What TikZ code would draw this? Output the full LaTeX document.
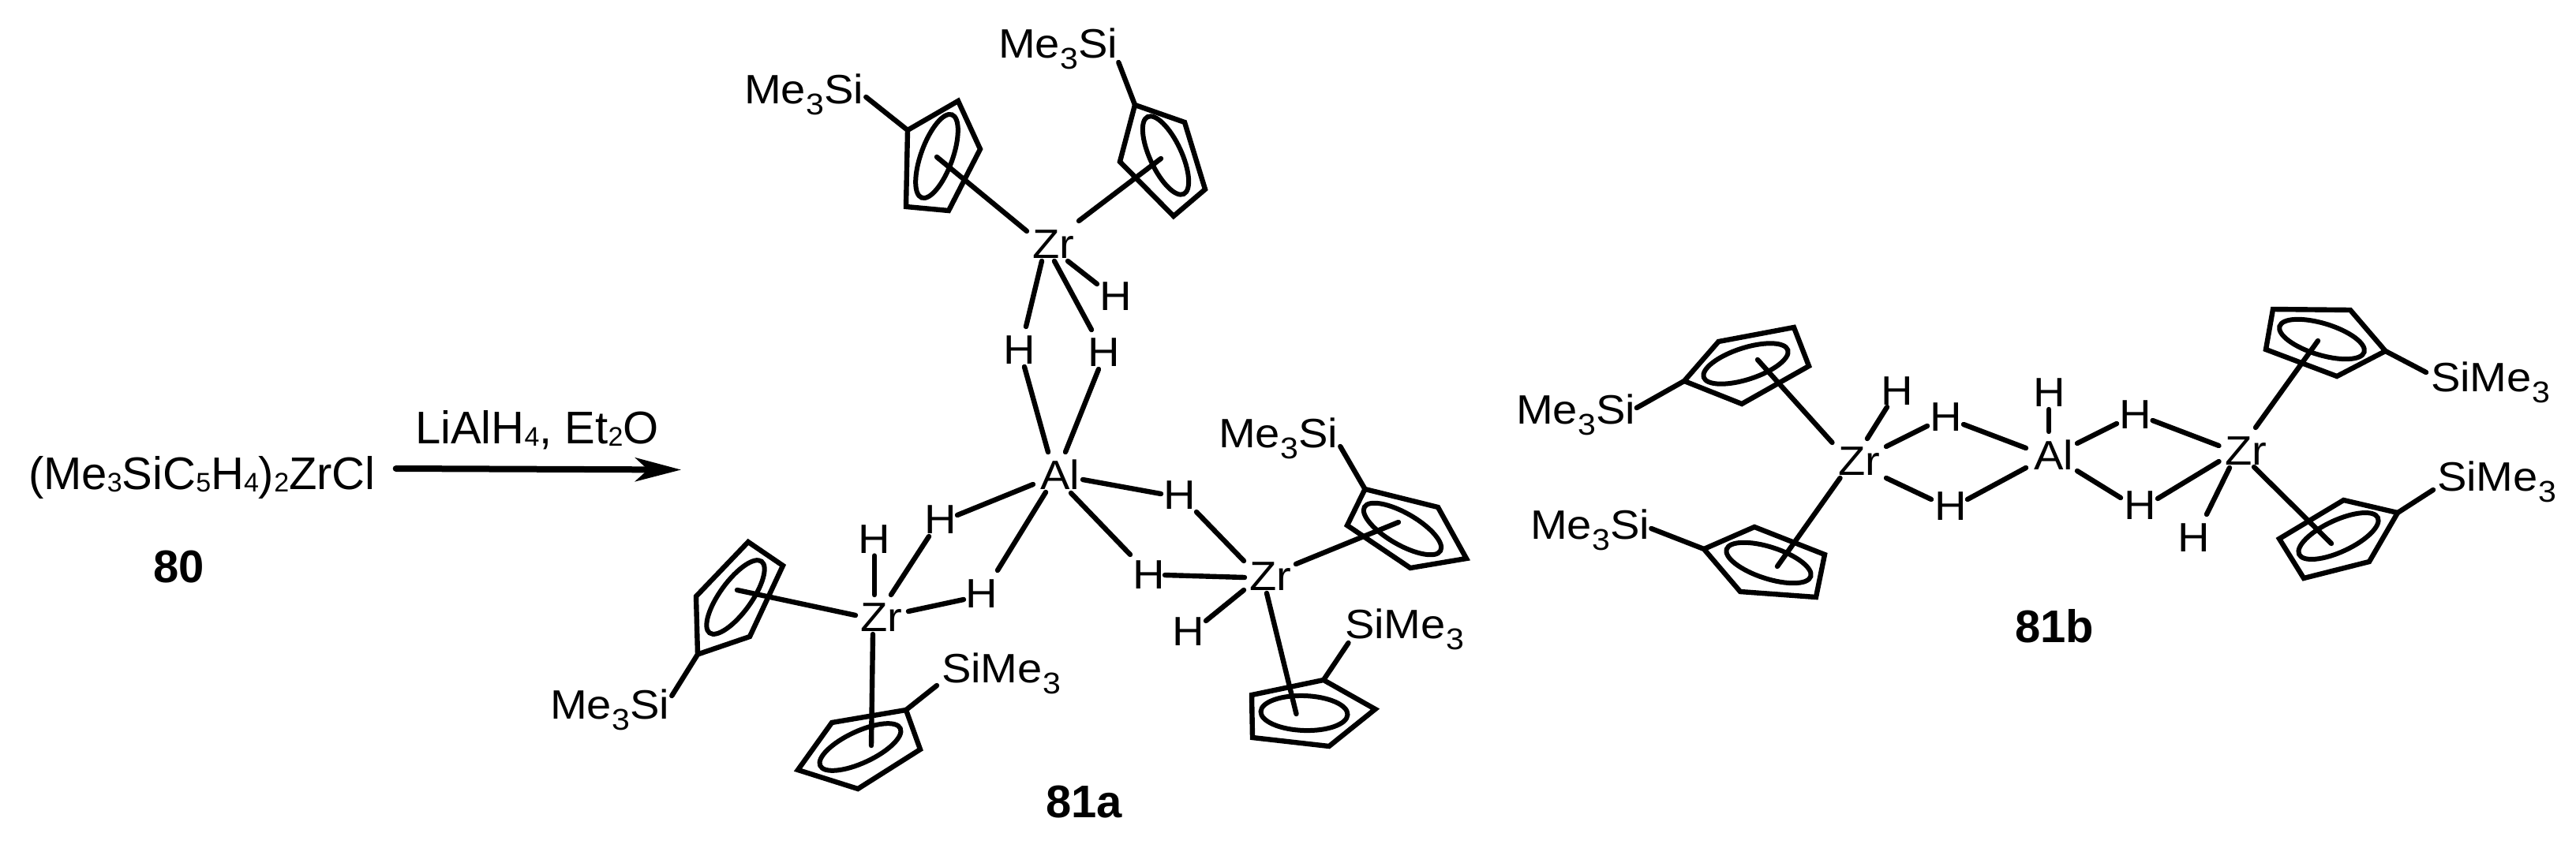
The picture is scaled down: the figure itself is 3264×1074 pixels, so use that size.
\documentclass[tikz,border=0pt]{standalone}
\usepackage{fontspec}
\usepackage{graphicx}
\setmainfont{Liberation Sans}
\newfontfamily\molf[FakeStretch=1.08]{Liberation Sans}
\newcommand{\msub}[1]{\kern0.5pt\raisebox{-14pt}{\fontsize{38}{38}\selectfont #1}}
\newcommand{\lsub}[1]{\raisebox{-3pt}{\fontsize{34}{34}\selectfont #1}}
\newcommand{\LMS}{Me\msub{3}Si}
\newcommand{\RMS}{SiMe\msub{3}}
\tikzset{
  atom/.style={inner sep=0pt,outer sep=0pt,anchor=base,font=\molf\fontsize{52}{52}\selectfont},
  lsil/.style={atom,anchor=base west},
  rsil/.style={atom,anchor=base west},
  plain/.style={inner sep=0pt,outer sep=0pt,anchor=base west,font=\fontsize{58}{58}\selectfont},
  cmpd/.style={inner sep=0pt,outer sep=0pt,anchor=base west,font=\fontsize{58}{58}\selectfont\bfseries},
  bond/.style={draw=black,line width=6.4pt,line cap=round},
  ringl/.style={draw=black,line width=6.4pt,line join=miter},
  loopl/.style={draw=black,line width=6pt},
  rxn/.style={draw=black,line width=8pt,line cap=round,-{Stealth[length=58pt,width=30pt,inset=16pt]}}
}
\usetikzlibrary{arrows.meta}
\begin{document}
\begin{tikzpicture}[x=1pt,y=-1pt]
\useasboundingbox (0,0) rectangle (3264,1074);
% reaction
\node[plain] (react) at (36,620) {(Me\lsub{3}SiC\lsub{5}H\lsub{4})\lsub{2}ZrCl};
\node[plain] (cond) at (526,562) {LiAlH\lsub{4}, Et\lsub{2}O};
\node[cmpd] (c80) at (194,738) {80};
\node[cmpd] (c81a) at (1325,1036) {81a};
\node[cmpd] (c81b) at (2553,814) {81b};
\coordinate (prod) at (863,595.5);
\draw[rxn] ([shift={(26,-26)}]react.base east) -- (prod);
% atoms 81a
\node[atom] (Z1) at (1335,327) {Zr};
\node[atom] (Z2) at (1117,800) {Zr};
\node[atom] (Z3) at (1610,748) {Zr};
\node[atom] (A1) at (1343,620) {Al};
\node[atom] (h1) at (1414,393) {H};
\node[atom] (h2) at (1292,461) {H};
\node[atom] (h3) at (1399,464) {H};
\node[atom] (h4) at (1108,701) {H};
\node[atom] (h5) at (1192,676) {H};
\node[atom] (h6) at (1244,770) {H};
\node[atom] (h7) at (1495,645) {H};
\node[atom] (h8) at (1456,746) {H};
\node[atom] (h9) at (1506,818) {H};
% atoms 81b
\node[atom] (Z4) at (2356,602) {Zr};
\node[atom] (Z5) at (2846,589) {Zr};
\node[atom] (A2) at (2602,595) {Al};
\node[atom] (h10) at (2404,513) {H};
\node[atom] (h11) at (2466,546) {H};
\node[atom] (h12) at (2472,659) {H};
\node[atom] (h13) at (2597,515) {H};
\node[atom] (h14) at (2706,543) {H};
\node[atom] (h15) at (2712,658) {H};
\node[atom] (h16) at (2780,699) {H};
% silyl labels
\node[lsil] (s1) at (943,131) {\LMS};
\node[lsil] (s2) at (1265,73) {\LMS};
\node[lsil] (s3) at (697,911) {\LMS};
\node[rsil] (s4) at (1193,865) {\RMS};
\node[lsil] (s5) at (1544,567) {\LMS};
\node[rsil] (s6) at (1704,809) {\RMS};
\node[lsil] (s7) at (1921,537) {\LMS};
\node[lsil] (s8) at (1939,683) {\LMS};
\node[rsil] (s9) at (3080,496) {\RMS};
\node[rsil] (s10) at (3088,622) {\RMS};
% ring vertices
\coordinate (r1a) at (1150,165); \coordinate (r1b) at (1214,128); \coordinate (r1c) at (1242,189); \coordinate (r1d) at (1202,267); \coordinate (r1e) at (1148,262);
\coordinate (r2a) at (1438,133); \coordinate (r2b) at (1501,155); \coordinate (r2c) at (1527,240); \coordinate (r2d) at (1487,274); \coordinate (r2e) at (1419,205);
\coordinate (r3a) at (884,829.5); \coordinate (r3b) at (950,807); \coordinate (r3c) at (992,717); \coordinate (r3d) at (948,687); \coordinate (r3e) at (882,756);
\coordinate (r4a) at (1148,900); \coordinate (r4b) at (1166,950); \coordinate (r4c) at (1087,1000); \coordinate (r4d) at (1011,976); \coordinate (r4e) at (1054,916);
\coordinate (r5a) at (1729.5,620); \coordinate (r5b) at (1822,643); \coordinate (r5c) at (1858,708); \coordinate (r5d) at (1787,720); \coordinate (r5e) at (1707,666);
\coordinate (r6a) at (1677,862); \coordinate (r6b) at (1742.5,899); \coordinate (r6c) at (1684,946); \coordinate (r6d) at (1587,935); \coordinate (r6e) at (1586,881);
\coordinate (r7a) at (2134,483); \coordinate (r7b) at (2177.5,433); \coordinate (r7c) at (2273,415); \coordinate (r7d) at (2292,464); \coordinate (r7e) at (2207,512);
\coordinate (r8a) at (2159,696); \coordinate (r8b) at (2223,668); \coordinate (r8c) at (2312,703); \coordinate (r8d) at (2301,757); \coordinate (r8e) at (2205,750);
\coordinate (r9a) at (3022.5,445); \coordinate (r9b) at (2978,393); \coordinate (r9c) at (2880,392); \coordinate (r9d) at (2871,443); \coordinate (r9e) at (2961,477);
\coordinate (r10a) at (3038,650); \coordinate (r10b) at (2969.5,634); \coordinate (r10c) at (2888,683); \coordinate (r10d) at (2919,733); \coordinate (r10e) at (3002,712);
\foreach \n in {1,...,10} {\draw[ringl] (r\n a) -- (r\n b) -- (r\n c) -- (r\n d) -- (r\n e) -- cycle;}
% ring loops
\coordinate (e1) at (1187,198); \coordinate (e2) at (1477,197); \coordinate (e3) at (932,757); \coordinate (e4) at (1090,947); \coordinate (e5) at (1777,670.5);
\coordinate (e6) at (1652.5,904); \coordinate (e7) at (2212,461); \coordinate (e8) at (2241,713.5); \coordinate (e9) at (2942,430); \coordinate (e10) at (2963,679.5);
\draw[loopl] (e1) ellipse [x radius=56pt,y radius=20pt,rotate=70];
\draw[loopl] (e2) ellipse [x radius=54pt,y radius=20pt,rotate=-65];
\draw[loopl] (e3) ellipse [x radius=56pt,y radius=20pt,rotate=54];
\draw[loopl] (e4) ellipse [x radius=56pt,y radius=20pt,rotate=25];
\draw[loopl] (e5) ellipse [x radius=55.6pt,y radius=20pt,rotate=-30];
\draw[loopl] (e6) ellipse [x radius=55pt,y radius=22pt,rotate=-2];
\draw[loopl] (e7) ellipse [x radius=56pt,y radius=20pt,rotate=18];
\draw[loopl] (e8) ellipse [x radius=56pt,y radius=20pt,rotate=-18];
\draw[loopl] (e9) ellipse [x radius=56pt,y radius=20pt,rotate=-17];
\draw[loopl] (e10) ellipse [x radius=55pt,y radius=20pt,rotate=25];
% ring-bond inner ends
\coordinate (t1) at (1187,199); \coordinate (t2) at (1471,201); \coordinate (t3) at (934,748); \coordinate (t4) at (1104,945); \coordinate (t5) at (1772,662);
\coordinate (t6) at (1642.5,905); \coordinate (t7) at (2227,456); \coordinate (t8) at (2252,718); \coordinate (t9) at (2937,432); \coordinate (t10) at (2954,689);
% silyl bonds
\draw[bond] ([shift={(3,-8)}]s1.base east) -- (r1a);
\draw[bond] ([shift={(1,6)}]s2.base east) -- (r2a);
\draw[bond] ([shift={(3,-29)}]s3.base east) -- (r3a);
\draw[bond] ([shift={(-6,4)}]s4.base west) -- (r4a);
\draw[bond] ([shift={(3,-1)}]s5.base east) -- (r5a);
\draw[bond] ([shift={(4.5,6)}]s6.base west) -- (r6a);
\draw[bond] ([shift={(1.5,-20)}]s7.base east) -- (r7a);
\draw[bond] ([shift={(2,-13)}]s8.base east) -- (r8a);
\draw[bond] ([shift={(-6,-24)}]s9.base west) -- (r9a);
\draw[bond] ([shift={(-5,-1)}]s10.base west) -- (r10a);
% Zr-ring bonds
\draw[bond] ([shift={(-34,-34)}]Z1.base) -- (t1);
\draw[bond] ([shift={(32,-47)}]Z1.base) -- (t2);
\draw[bond] ([shift={(-33,-20)}]Z2.base) -- (t3);
\draw[bond] ([shift={(-11,4)}]Z2.base) -- (t4);
\draw[bond] ([shift={(32,-33)}]Z3.base) -- (t5);
\draw[bond] ([shift={(-5,4)}]Z3.base) -- (t6);
\draw[bond] ([shift={(-34.5,-41)}]Z4.base) -- (t7);
\draw[bond] ([shift={(-24.5,4)}]Z4.base) -- (t8);
\draw[bond] ([shift={(12,-47)}]Z5.base) -- (t9);
\draw[bond] ([shift={(10,3)}]Z5.base) -- (t10);
% hydride bonds 81a
\draw[bond] ([shift={(18,4)}]Z1.base) -- ([shift={(-24,-33)}]h1.base);
\draw[bond] ([shift={(-15,4)}]Z1.base) -- ([shift={(8,-47)}]h2.base);
\draw[bond] ([shift={(1,4)}]Z1.base) -- ([shift={(-16,-46)}]h3.base);
\draw[bond] ([shift={(6,4)}]h2.base) -- ([shift={(-15,-47)}]A1.base);
\draw[bond] ([shift={(-7,4)}]h3.base) -- ([shift={(7,-47)}]A1.base);
\draw[bond] ([shift={(-9,-46)}]Z2.base) -- ([shift={(0,3.5)}]h4.base);
\draw[bond] ([shift={(12,-46)}]Z2.base) -- ([shift={(-15,4)}]h5.base);
\draw[bond] ([shift={(34,-25)}]Z2.base) -- ([shift={(-23,-10)}]h6.base);
\draw[bond] ([shift={(-34,-6)}]A1.base) -- ([shift={(21,-23)}]h5.base);
\draw[bond] ([shift={(-18,4)}]A1.base) -- ([shift={(20,-47)}]h6.base);
\draw[bond] ([shift={(29,-12)}]A1.base) -- ([shift={(-24,-19)}]h7.base);
\draw[bond] ([shift={(14,5)}]A1.base) -- ([shift={(-24,-43)}]h8.base);
\draw[bond] ([shift={(21,4)}]h7.base) -- ([shift={(-34,-37)}]Z3.base);
\draw[bond] ([shift={(20,-17)}]h8.base) -- ([shift={(-33,-16)}]Z3.base);
\draw[bond] ([shift={(22,-31)}]h9.base) -- ([shift={(-34,0)}]Z3.base);
% hydride bonds 81b
\draw[bond] ([shift={(10,-46)}]Z4.base) -- ([shift={(-13,3)}]h10.base);
\draw[bond] ([shift={(34,-36)}]Z4.base) -- ([shift={(-24,-6)}]h11.base);
\draw[bond] ([shift={(34,4)}]Z4.base) -- ([shift={(-25,-26)}]h12.base);
\draw[bond] ([shift={(22,-8)}]h11.base) -- ([shift={(-35,-27)}]A2.base);
\draw[bond] ([shift={(21,-26)}]h12.base) -- ([shift={(-35,-2)}]A2.base);
\draw[bond] ([shift={(-6,-48)}]A2.base) -- ([shift={(-1,4)}]h13.base);
\draw[bond] ([shift={(30,-33)}]A2.base) -- ([shift={(-24,-6)}]h14.base);
\draw[bond] ([shift={(30,2)}]A2.base) -- ([shift={(-25,-27)}]h15.base);
\draw[bond] ([shift={(21.5,-10)}]h14.base) -- ([shift={(-34.5,-24)}]Z5.base);
\draw[bond] ([shift={(22,-26)}]h15.base) -- ([shift={(-34.5,-4)}]Z5.base);
\draw[bond] ([shift={(-21,4)}]Z5.base) -- ([shift={(16,-47)}]h16.base);
\end{tikzpicture}
\end{document}
